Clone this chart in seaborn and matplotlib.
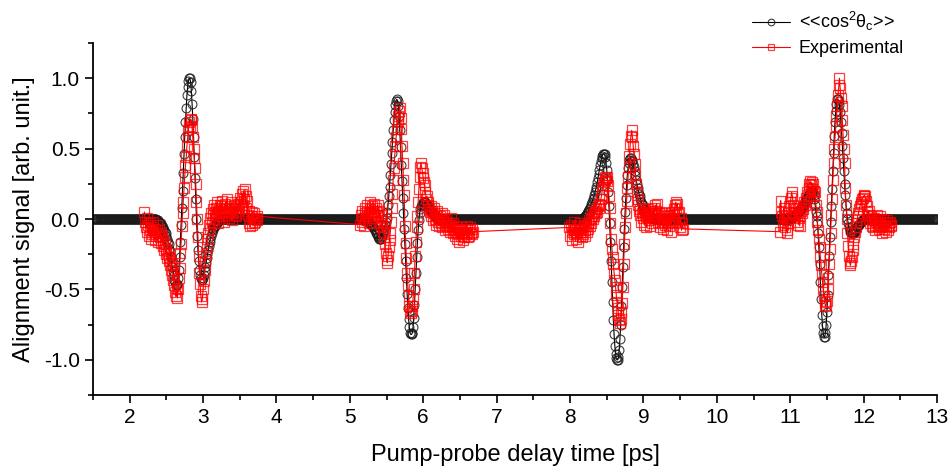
import numpy as np
import pandas as pd
import matplotlib
matplotlib.use("Agg")
import matplotlib.pyplot as plt
from matplotlib.ticker import MultipleLocator
import seaborn as sns

# ---------------- data ----------------
STEP = 0.01
# theory <<cos^2 theta_c>> : sampled 1.50 .. 13.00 ps, zero outside the revival windows
theory_start, theory_end = 1.50, 13.00
rev1_t0 = 2.35
rev1 = [0.00, 0.00, -0.01, -0.01, -0.02, -0.02, -0.03, -0.03, -0.04, -0.05,
        -0.06, -0.07, -0.08, -0.09, -0.10, -0.12, -0.14, -0.16, -0.18, -0.21,
        -0.23, -0.27, -0.31, -0.34, -0.37, -0.40, -0.43, -0.45, -0.47, -0.47,
        -0.46, -0.42, -0.36, -0.27, -0.16, -0.04, 0.08, 0.20, 0.33, 0.46,
        0.58, 0.69, 0.79, 0.88, 0.94, 0.98, 1.00, 1.00, 0.97, 0.91,
        0.82, 0.71, 0.58, 0.44, 0.29, 0.14, 0.00, -0.12, -0.22, -0.30,
        -0.36, -0.40, -0.42, -0.43, -0.43, -0.42, -0.40, -0.37, -0.34, -0.31,
        -0.28, -0.25, -0.22, -0.19, -0.16, -0.14, -0.12, -0.10, -0.08, -0.07,
        -0.06, -0.05, -0.04, -0.03, -0.02, -0.02, -0.01, -0.01, 0.00]
rev2_t0 = 5.20
rev2 = [0.00, 0.00, -0.01, -0.01, -0.01, -0.02, -0.02, -0.03, -0.03, -0.04,
        -0.04, -0.05, -0.06, -0.07, -0.08, -0.09, -0.10, -0.11, -0.12, -0.13,
        -0.14, -0.14, -0.14, -0.13, -0.12, -0.10, -0.08, -0.06, -0.04, -0.02,
        0.01, 0.05, 0.10, 0.16, 0.23, 0.31, 0.39, 0.47, 0.55, 0.63,
        0.70, 0.76, 0.81, 0.84, 0.85, 0.84, 0.80, 0.73, 0.63, 0.51,
        0.38, 0.27, 0.15, 0.04, -0.07, -0.18, -0.30, -0.42, -0.53, -0.63,
        -0.71, -0.77, -0.81, -0.82, -0.82, -0.81, -0.77, -0.70, -0.61, -0.50,
        -0.38, -0.27, -0.17, -0.08, -0.01, 0.04, 0.07, 0.09, 0.10, 0.11,
        0.12, 0.12, 0.12, 0.12, 0.11, 0.11, 0.10, 0.09, 0.08, 0.07,
        0.06, 0.05, 0.05, 0.04, 0.03, 0.03, 0.02, 0.02, 0.01, 0.01,
        0.01, 0.00]
rev3_t0 = 8.15
rev3 = [0.00, 0.00, 0.01, 0.01, 0.01, 0.02, 0.02, 0.03, 0.04, 0.05,
        0.06, 0.07, 0.08, 0.09, 0.11, 0.12, 0.14, 0.15, 0.17, 0.19,
        0.21, 0.23, 0.26, 0.29, 0.32, 0.35, 0.38, 0.41, 0.43, 0.45,
        0.46, 0.46, 0.46, 0.44, 0.40, 0.35, 0.28, 0.19, 0.09, -0.03,
        -0.16, -0.30, -0.45, -0.59, -0.72, -0.82, -0.90, -0.96, -0.99, -1.00,
        -1.00, -0.98, -0.93, -0.85, -0.75, -0.62, -0.48, -0.34, -0.20, -0.07,
        0.05, 0.15, 0.24, 0.31, 0.36, 0.40, 0.42, 0.43, 0.43, 0.42,
        0.41, 0.39, 0.37, 0.34, 0.31, 0.28, 0.25, 0.22, 0.20, 0.18,
        0.16, 0.14, 0.12, 0.11, 0.10, 0.08, 0.07, 0.06, 0.05, 0.05,
        0.04, 0.03, 0.03, 0.02, 0.02, 0.01, 0.01, 0.01, 0.00]
rev4_t0 = 11.00
rev4 = [0.00, 0.00, 0.01, 0.01, 0.01, 0.02, 0.02, 0.03, 0.03, 0.04,
        0.04, 0.05, 0.06, 0.06, 0.07, 0.08, 0.08, 0.09, 0.10, 0.11,
        0.12, 0.13, 0.14, 0.15, 0.16, 0.17, 0.18, 0.19, 0.19, 0.20,
        0.20, 0.19, 0.17, 0.14, 0.10, 0.05, 0.02, -0.03, -0.10, -0.20,
        -0.32, -0.45, -0.57, -0.68, -0.76, -0.81, -0.84, -0.84, -0.81, -0.75,
        -0.66, -0.54, -0.40, -0.26, -0.13, -0.02, 0.09, 0.21, 0.34, 0.47,
        0.59, 0.69, 0.77, 0.82, 0.85, 0.85, 0.84, 0.81, 0.76, 0.69,
        0.61, 0.52, 0.43, 0.34, 0.25, 0.17, 0.10, 0.04, 0.00, -0.03,
        -0.06, -0.08, -0.09, -0.10, -0.10, -0.10, -0.10, -0.10, -0.09, -0.08,
        -0.07, -0.06, -0.05, -0.04, -0.04, -0.03, -0.02, -0.02, -0.01, -0.01,
        0.00]

# experimental signal: four scan windows sampled every 0.01 ps
exp1_t0 = 2.20
exp1 = [0.05, -0.02, -0.06, 0.01, -0.09, -0.04, -0.12, -0.03, -0.08, -0.14,
        -0.06, -0.11, -0.02, -0.09, -0.15, -0.07, -0.12, -0.04, -0.10, -0.16,
        -0.08, -0.13, -0.10, -0.17, -0.12, -0.19, -0.15, -0.22, -0.18, -0.25,
        -0.21, -0.28, -0.24, -0.30, -0.27, -0.33, -0.36, -0.32, -0.40, -0.43,
        -0.39, -0.47, -0.52, -0.55, -0.49, -0.56, -0.50, -0.42, -0.35, -0.24,
        -0.18, -0.05, 0.04, 0.12, 0.22, 0.30, 0.38, 0.44, 0.52, 0.58,
        0.63, 0.69, 0.66, 0.71, 0.70, 0.65, 0.58, 0.50, 0.43, 0.36,
        0.25, 0.12, 0.00, -0.13, -0.26, -0.38, -0.46, -0.55, -0.59, -0.57,
        -0.50, -0.44, -0.36, -0.30, -0.24, -0.20, -0.14, -0.10, -0.04, -0.07,
        0.01, 0.04, -0.02, 0.07, 0.03, 0.10, 0.05, 0.00, 0.08, 0.12,
        0.04, -0.03, 0.06, 0.10, 0.02, 0.09, 0.13, 0.05, -0.02, 0.07,
        0.11, 0.03, 0.08, 0.14, 0.06, 0.01, 0.09, 0.04, 0.12, 0.07,
        -0.01, 0.05, 0.10, 0.03, 0.08, 0.02, 0.06, 0.11, 0.04, 0.09,
        0.15, 0.08, 0.12, 0.18, 0.10, 0.20, 0.14, 0.21, 0.16, 0.08,
        0.13, 0.03, -0.03, 0.06, -0.05, 0.02, -0.04, 0.05, 0.00, -0.03,
        0.04, -0.02, 0.01, -0.01, 0.02]
exp2_t0 = 5.14
exp2 = [-0.04, 0.03, -0.02, 0.06, 0.01, -0.05, 0.04, 0.08, -0.01, 0.05,
        0.10, 0.02, -0.03, 0.07, 0.12, 0.04, 0.09, 0.01, 0.06, 0.11,
        0.03, 0.08, -0.02, 0.05, 0.10, 0.02, 0.06, -0.03, 0.03, -0.06,
        -0.01, -0.09, -0.05, -0.13, -0.18, -0.24, -0.29, -0.31, -0.26, -0.20,
        -0.15, -0.10, -0.02, 0.08, 0.18, 0.28, 0.36, 0.45, 0.52, 0.58,
        0.64, 0.69, 0.73, 0.77, 0.79, 0.72, 0.64, 0.52, 0.40, 0.28,
        0.17, -0.05, -0.17, -0.28, -0.38, -0.47, -0.55, -0.62, -0.65, -0.67,
        -0.65, -0.62, -0.57, -0.50, -0.38, -0.26, -0.16, -0.06, 0.02, 0.12,
        0.21, 0.30, 0.37, 0.40, 0.36, 0.33, 0.29, 0.26, 0.24, 0.19,
        0.14, 0.16, 0.10, 0.12, 0.07, 0.05, 0.09, 0.02, 0.06, -0.01,
        0.04, 0.08, 0.00, -0.04, 0.03, 0.06, -0.02, 0.01, -0.05, 0.02,
        -0.03, 0.04, -0.06, -0.01, 0.03, -0.04, -0.08, 0.00, -0.05, -0.02,
        -0.07, -0.03, -0.09, -0.04, 0.01, -0.06, -0.10, -0.03, -0.08, -0.12,
        -0.05, -0.09, -0.14, -0.07, -0.11, -0.16, -0.08, -0.12, -0.06, -0.10,
        -0.15, -0.09, -0.13, -0.07, -0.11, -0.05, -0.09, -0.13, -0.08, -0.12,
        -0.06, -0.10, -0.07, -0.11, -0.09]
exp3_t0 = 7.99
exp3 = [-0.06, -0.12, -0.04, -0.09, -0.15, -0.07, -0.11, -0.02, -0.08, -0.14,
        -0.05, -0.10, -0.16, -0.08, -0.12, -0.03, -0.09, -0.13, -0.06, -0.11,
        -0.04, -0.08, -0.12, -0.05, -0.09, -0.03, -0.07, -0.01, -0.05, 0.01,
        -0.03, 0.02, 0.00, 0.04, 0.02, 0.06, 0.04, 0.07, 0.05, 0.09,
        0.08, 0.11, 0.10, 0.14, 0.17, 0.21, 0.24, 0.26, 0.28, 0.30,
        0.29, 0.30, 0.27, 0.24, 0.16, 0.08, -0.03, -0.14, -0.21, -0.27,
        -0.32, -0.38, -0.43, -0.48, -0.54, -0.59, -0.63, -0.68, -0.72, -0.74,
        -0.71, -0.66, -0.60, -0.48, -0.32, -0.18, -0.06, 0.04, 0.13, 0.22,
        0.30, 0.37, 0.45, 0.53, 0.59, 0.63, 0.58, 0.52, 0.46, 0.39,
        0.31, 0.25, 0.19, 0.14, 0.10, 0.06, 0.03, 0.07, -0.02, 0.04,
        0.08, 0.01, -0.04, 0.05, 0.02, -0.06, 0.03, 0.07, -0.01, 0.04,
        -0.05, 0.02, 0.06, -0.03, 0.01, 0.08, 0.04, 0.10, 0.06, 0.11,
        0.03, -0.02, 0.04, -0.06, 0.00, 0.05, -0.03, 0.02, -0.07, -0.01,
        0.04, -0.04, 0.01, -0.08, -0.02, 0.03, -0.05, 0.02, -0.09, -0.03,
        0.05, -0.01, 0.07, 0.03, 0.10, 0.12, 0.08, 0.11, 0.04, -0.02,
        0.05, -0.06, 0.01, -0.08, -0.03, -0.07]
exp4_t0 = 10.86
exp4 = [-0.09, 0.13, 0.05, 0.02, -0.04, 0.08, 0.03, -0.06, 0.01, -0.08,
        -0.10, -0.03, 0.04, 0.09, 0.12, 0.15, 0.19, 0.16, 0.10, 0.05,
        0.08, 0.03, 0.07, -0.02, 0.04, -0.04, 0.01, -0.05, 0.02, 0.06,
        0.04, 0.09, 0.07, 0.12, 0.10, 0.15, 0.13, 0.19, 0.17, 0.22,
        0.25, 0.27, 0.24, 0.26, 0.21, 0.25, 0.20, 0.16, 0.19, 0.10,
        0.05, -0.02, -0.08, -0.14, -0.20, -0.27, -0.33, -0.39, -0.45, -0.50,
        -0.55, -0.59, -0.62, -0.61, -0.58, -0.50, -0.42, -0.32, -0.21, -0.10,
        0.03, 0.14, 0.28, 0.40, 0.50, 0.58, 0.66, 0.73, 0.80, 0.88,
        0.95, 1.00, 0.93, 0.86, 0.80, 0.70, 0.60, 0.50, 0.40, 0.22,
        0.10, 0.00, -0.10, -0.19, -0.26, -0.31, -0.33, -0.30, -0.27, -0.22,
        -0.18, -0.13, -0.09, -0.06, -0.03, -0.01, 0.02, 0.04, 0.07, 0.09,
        0.11, 0.12, 0.14, 0.15, 0.16, 0.17, 0.16, 0.13, 0.09, 0.05,
        0.03, 0.06, 0.00, -0.03, 0.02, -0.05, -0.01, -0.06, 0.01, -0.04,
        -0.08, -0.02, 0.03, -0.05, -0.01, -0.07, -0.03, 0.02, -0.06, -0.10,
        -0.04, 0.00, -0.07, -0.02, -0.09, -0.05, -0.01, -0.08, -0.03, -0.06,
        -0.02, -0.05, -0.04]

theory_label = r"<<cos$^\mathregular{2}$θ$_\mathregular{c}$>>"
exp_label = "Experimental"

# ---------------- assemble tables ----------------
n_th = int(round((theory_end - theory_start) / STEP)) + 1
th_t = np.round(theory_start + STEP * np.arange(n_th), 2)
th_y = np.zeros(n_th)
for t0, vals in [(rev1_t0, rev1), (rev2_t0, rev2), (rev3_t0, rev3), (rev4_t0, rev4)]:
    i0 = int(round((t0 - theory_start) / STEP))
    th_y[i0:i0 + len(vals)] = vals
theory = pd.DataFrame({"t": th_t, "y": th_y})

ex_t, ex_y = [], []
for t0, vals in [(exp1_t0, exp1), (exp2_t0, exp2), (exp3_t0, exp3), (exp4_t0, exp4)]:
    ex_t.extend(np.round(t0 + STEP * np.arange(len(vals)), 2))
    ex_y.extend(vals)
experiment = pd.DataFrame({"t": ex_t, "y": ex_y})

# ---------------- plot ----------------
sns.set_theme(style="white")
plt.rcParams["font.family"] = ["Liberation Sans", "DejaVu Sans"]
plt.rcParams["mathtext.fontset"] = "custom"
plt.rcParams["mathtext.rm"] = "Liberation Sans"
for k in ["text.color", "axes.labelcolor", "xtick.color", "ytick.color"]:
    plt.rcParams[k] = "black"

fig = plt.figure(figsize=(9.51, 4.71), dpi=100)
ax = fig.add_axes([93 / 951, 1 - 395 / 471, (937 - 93) / 951, (395 - 43) / 471])

sns.lineplot(data=theory, x="t", y="y", ax=ax, estimator=None, sort=False,
             color="black", lw=0.8, marker="o", markersize=6.4,
             markerfacecolor="none", markeredgecolor=(0.1, 0.1, 0.1, 0.85),
             markeredgewidth=0.8, label=theory_label)
sns.lineplot(data=experiment, x="t", y="y", ax=ax, estimator=None, sort=False,
             color="#ff0000", lw=0.8, marker="s", markersize=6.6,
             markerfacecolor="none", markeredgecolor=(1, 0, 0, 0.75),
             markeredgewidth=0.9, label=exp_label)

ax.set_xlim(1.5, 13)
ax.set_ylim(-1.25, 1.25)
ax.xaxis.set_major_locator(MultipleLocator(1))
ax.xaxis.set_minor_locator(MultipleLocator(0.5))
ax.yaxis.set_major_locator(MultipleLocator(0.5))
ax.yaxis.set_minor_locator(MultipleLocator(0.25))
ax.yaxis.set_major_formatter(matplotlib.ticker.FormatStrFormatter("%.1f"))
ax.tick_params(which="major", direction="out", length=6, width=1.2,
               labelsize=15, colors="black", bottom=True, left=True)
ax.tick_params(which="minor", direction="out", length=3.5, width=1.2,
               colors="black", bottom=True, left=True)
for s in ["top", "right"]:
    ax.spines[s].set_visible(False)
for s in ["left", "bottom"]:
    ax.spines[s].set_color("black")
    ax.spines[s].set_linewidth(1.3)

ax.set_xlabel("Pump-probe delay time [ps]", fontsize=17, labelpad=12, color="black")
ax.set_ylabel("Alignment signal [arb. unit.]", fontsize=17, labelpad=6, color="black")

leg = ax.legend(loc="upper left", bbox_to_anchor=(743 / 951, 1 - 1 / 471),
                bbox_transform=fig.transFigure, frameon=False, fontsize=13,
                handlelength=2.1, handletextpad=0.5, labelspacing=0.4,
                borderpad=0, markerscale=0.75)
for txt in leg.get_texts():
    txt.set_color("black")

fig.savefig("out.png", dpi=100)
